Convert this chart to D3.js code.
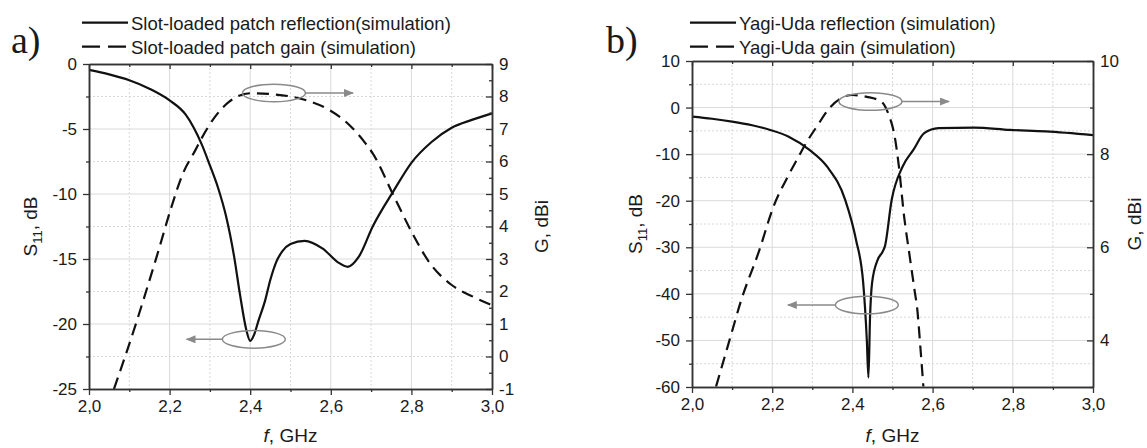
<!DOCTYPE html>
<html>
<head>
<meta charset="utf-8">
<script src="https://cdn.jsdelivr.net/npm/d3@7"></script>
<style>
body { margin: 0; background: #fff; }
svg text { font-family: "Liberation Sans", Arial, sans-serif; fill: #1a1a1a; }
</style>
</head>
<body>
<svg id="chart" width="1147" height="448"></svg>
<script>
// ---- panel a) slot-loaded patch ----
var patchFreqS = [2.0, 2.05, 2.1, 2.15, 2.2, 2.24, 2.26, 2.28, 2.3, 2.32, 2.34, 2.36, 2.375, 2.39, 2.4, 2.41, 2.42, 2.437, 2.45, 2.465, 2.48, 2.5, 2.535, 2.58, 2.62, 2.642, 2.67, 2.704, 2.757, 2.8, 2.85, 2.9, 2.95, 3.0];
var patchS11 = [-0.45, -0.8, -1.25, -1.9, -2.8, -3.9, -4.9, -6.2, -7.8, -9.5, -11.7, -14.8, -17.8, -20.4, -21.3, -20.8, -19.8, -18.2, -16.6, -15.2, -14.4, -13.85, -13.6, -14.2, -15.3, -15.6, -14.8, -12.5, -9.7, -7.6, -6.0, -4.9, -4.3, -3.8];
var patchFreqG = [2.062, 2.117, 2.135, 2.171, 2.202, 2.233, 2.264, 2.277, 2.313, 2.348, 2.402, 2.455, 2.535, 2.597, 2.642, 2.686, 2.704, 2.757, 2.802, 2.846, 2.9, 2.953, 3.0];
var patchGain = [-1.0, 1.03, 1.74, 3.2, 4.5, 5.63, 6.35, 6.66, 7.38, 7.84, 8.1, 8.07, 7.9, 7.58, 7.17, 6.56, 6.25, 4.92, 3.8, 2.87, 2.2, 1.84, 1.58];

// ---- panel b) Yagi-Uda ----
var yagiFreqS = [2.0, 2.05, 2.1, 2.15, 2.195, 2.24, 2.293, 2.337, 2.382, 2.409, 2.427, 2.436, 2.44, 2.444, 2.449, 2.463, 2.475, 2.481, 2.498, 2.525, 2.552, 2.579, 2.615, 2.704, 2.793, 2.882, 3.0];
var yagiS11 = [-1.95, -2.4, -3.0, -3.8, -4.8, -6.2, -9.1, -12.7, -19.8, -28.4, -37.7, -50, -58, -45, -37.7, -32.7, -31, -29.8, -19.8, -12.7, -9.1, -5.5, -4.4, -4.3, -4.8, -5.1, -5.9];
var yagiFreqG = [2.06, 2.09, 2.123, 2.168, 2.203, 2.239, 2.266, 2.284, 2.311, 2.346, 2.4, 2.436, 2.472, 2.489, 2.507, 2.516, 2.529, 2.543, 2.556, 2.561, 2.57, 2.577];
var yagiGain = [3.01, 3.9, 4.87, 5.94, 6.87, 7.52, 7.95, 8.23, 8.59, 9.02, 9.27, 9.23, 9.13, 8.88, 8.3, 7.73, 6.66, 5.8, 5.02, 4.73, 3.8, 3.01];

// ---- tick labels ----
var freqTicks = [2.0, 2.2, 2.4, 2.6, 2.8, 3.0];
var freqMinor = [2.1, 2.3, 2.5, 2.7, 2.9];
var patchS11Ticks = [-25, -20, -15, -10, -5, 0];
var patchS11Minor = [-22.5, -17.5, -12.5, -7.5, -2.5];
var patchGainTicks = [-1, 0, 1, 2, 3, 4, 5, 6, 7, 8, 9];
var patchGainMinor = [-0.5, 0.5, 1.5, 2.5, 3.5, 4.5, 5.5, 6.5, 7.5, 8.5];
var yagiS11Ticks = [-60, -50, -40, -30, -20, -10, 0, 10];
var yagiS11Minor = [-55, -45, -35, -25, -15, -5, 5];
var yagiGainTicks = [4, 6, 8, 10];
var yagiGainMinor = [3, 5, 7, 9];

var patchLegend = ["Slot-loaded patch reflection(simulation)", "Slot-loaded patch gain (simulation)"];
var yagiLegend = ["Yagi-Uda reflection (simulation)", "Yagi-Uda gain (simulation)"];

// annotation anchors: [freq, value, axis ("L" or "R"), arrow end freq]
var patchNotes = [[2.459, 8.11, "R", 2.655], [2.409, -21.18, "L", 2.242]];
var yagiNotes = [[2.445, 9.13, "R", 2.641], [2.436, -42.4, "L", 2.239]];

var svg = d3.select("#chart");
var comma = function(d) { return d3.format(".1f")(d).replace(".", ",").replace("\u2212", "-"); };
var plain = function(d) { return String(d); };

svg.append("defs").append("marker")
    .attr("id", "arr")
    .attr("viewBox", "0 0 10 8")
    .attr("refX", 9).attr("refY", 4)
    .attr("markerWidth", 10).attr("markerHeight", 8)
    .attr("markerUnits", "userSpaceOnUse")
    .attr("orient", "auto")
  .append("path")
    .attr("d", "M0,0 L10,4 L0,8 z")
    .attr("fill", "#8a8a8a");

function panel(p) {
  var x = d3.scaleLinear().domain([2, 3]).range([p.left, p.right]);
  var yL = d3.scaleLinear().domain(p.lDomain).range([p.bottom, p.top]);
  var yR = d3.scaleLinear().domain(p.rDomain).range([p.bottom, p.top]);
  var g = svg.append("g");

  // grid
  var grid = g.append("g");
  grid.selectAll(".vmaj").data(freqTicks.slice(1, -1)).enter().append("line")
      .attr("x1", x).attr("x2", x).attr("y1", p.top).attr("y2", p.bottom)
      .attr("stroke", "#dadada").attr("stroke-width", 1);
  grid.selectAll(".vmin").data(freqMinor).enter().append("line")
      .attr("x1", x).attr("x2", x).attr("y1", p.top).attr("y2", p.bottom)
      .attr("stroke", "#d8d8d8").attr("stroke-width", 1).attr("stroke-dasharray", "2,2");
  grid.selectAll(".hmaj").data(p.lTicks.slice(1, -1)).enter().append("line")
      .attr("y1", yL).attr("y2", yL).attr("x1", p.left).attr("x2", p.right)
      .attr("stroke", "#dadada").attr("stroke-width", 1);
  grid.selectAll(".hmin").data(p.lMinor).enter().append("line")
      .attr("y1", yL).attr("y2", yL).attr("x1", p.left).attr("x2", p.right)
      .attr("stroke", "#d8d8d8").attr("stroke-width", 1).attr("stroke-dasharray", "2,2");

  // curves
  var lineS = d3.line().x(function(d) { return x(d[0]); }).y(function(d) { return yL(d[1]); }).curve(d3.curveMonotoneX);
  var lineG = d3.line().x(function(d) { return x(d[0]); }).y(function(d) { return yR(d[1]); }).curve(d3.curveMonotoneX);
  g.append("path").datum(d3.zip(p.fG, p.vG)).attr("d", lineG)
      .attr("fill", "none").attr("stroke", "#111").attr("stroke-width", 2.2).attr("stroke-dasharray", "12,7");
  g.append("path").datum(d3.zip(p.fS, p.vS)).attr("d", lineS)
      .attr("fill", "none").attr("stroke", "#111").attr("stroke-width", 2.2).attr("stroke-linejoin", "round");

  // annotations
  p.notes.forEach(function(n) {
    var sc = n[2] == "L" ? yL : yR;
    var cx = x(n[0]), cy = sc(n[1]);
    g.append("ellipse").attr("cx", cx).attr("cy", cy).attr("rx", 31.5).attr("ry", 8.8)
        .attr("fill", "none").attr("stroke", "#8a8a8a").attr("stroke-width", 1.5);
    var sx = n[3] > n[0] ? cx + 31.5 : cx - 31.5;
    g.append("line").attr("x1", sx).attr("y1", cy).attr("x2", x(n[3])).attr("y2", cy)
        .attr("stroke", "#8a8a8a").attr("stroke-width", 1.5).attr("marker-end", "url(#arr)");
  });

  // axes
  function style(a) {
    a.selectAll(".domain").attr("stroke", "#333").attr("stroke-width", 1.5);
    a.selectAll(".tick line").attr("stroke", "#333").attr("stroke-width", 1.3);
    a.selectAll("text").attr("font-size", 17).attr("fill", "#1a1a1a");
  }
  g.append("g").attr("transform", "translate(0," + p.bottom + ")")
      .call(d3.axisBottom(x).tickValues(freqTicks).tickFormat(comma).tickSize(6).tickSizeOuter(0).tickPadding(5)).call(style);
  g.append("g").attr("transform", "translate(0," + p.bottom + ")")
      .call(d3.axisBottom(x).tickValues(freqMinor).tickFormat("").tickSize(3).tickSizeOuter(0)).call(style);
  g.append("g").attr("transform", "translate(0," + p.top + ")")
      .call(d3.axisTop(x).tickValues(freqTicks).tickFormat("").tickSize(-5).tickSizeOuter(0)).call(style);
  g.append("g").attr("transform", "translate(0," + p.top + ")")
      .call(d3.axisTop(x).tickValues(freqMinor).tickFormat("").tickSize(-3).tickSizeOuter(0)).call(style);
  g.append("g").attr("transform", "translate(" + p.left + ",0)")
      .call(d3.axisLeft(yL).tickValues(p.lTicks).tickFormat(plain).tickSize(6).tickSizeOuter(0).tickPadding(6)).call(style);
  g.append("g").attr("transform", "translate(" + p.left + ",0)")
      .call(d3.axisLeft(yL).tickValues(p.lMinor).tickFormat("").tickSize(3).tickSizeOuter(0)).call(style);
  g.append("g").attr("transform", "translate(" + p.right + ",0)")
      .call(d3.axisRight(yR).tickValues(p.rTicks).tickFormat(plain).tickSize(-6).tickSizeOuter(0).tickPadding(7)).call(style);
  g.append("g").attr("transform", "translate(" + p.right + ",0)")
      .call(d3.axisRight(yR).tickValues(p.rMinor).tickFormat("").tickSize(-3).tickSizeOuter(0)).call(style);

  // axis titles
  var cy = (p.top + p.bottom) / 2;
  var t1 = g.append("text").attr("transform", "translate(" + p.sTitleX + "," + cy + ") rotate(-90)")
      .attr("text-anchor", "middle").attr("dy", "0.35em").attr("font-size", 19);
  t1.append("tspan").text("S");
  t1.append("tspan").attr("font-size", 13).attr("dy", 5).text("11");
  t1.append("tspan").attr("dy", -5).text(", dB");
  g.append("text").attr("transform", "translate(" + p.gTitleX + "," + cy + ") rotate(-90)")
      .attr("text-anchor", "middle").attr("dy", "0.35em").attr("font-size", 19).text("G, dBi");
  var t3 = g.append("text").attr("x", (p.left + p.right) / 2).attr("y", 442)
      .attr("text-anchor", "middle").attr("font-size", 19);
  t3.append("tspan").attr("font-style", "italic").text("f");
  t3.append("tspan").text(", GHz");

  // legend
  p.legend.forEach(function(txt, i) {
    var ly = 22.7 + i * 24;
    g.append("line").attr("x1", p.legX).attr("x2", p.legX + 46).attr("y1", ly).attr("y2", ly)
        .attr("stroke", "#111").attr("stroke-width", 2.2).attr("stroke-dasharray", i ? "18,8" : null);
    g.append("text").attr("x", p.legX + 49).attr("y", ly + 7).attr("font-size", 18.5).text(txt);
  });

  g.append("text").attr("x", p.tagX).attr("y", 53)
      .style("font-family", "'Liberation Serif', 'Times New Roman', serif").attr("font-size", 38).text(p.tag);
}

panel({
  left: 89, right: 492, top: 64, bottom: 389,
  lDomain: [-25, 0], rDomain: [-1, 9],
  lTicks: patchS11Ticks, lMinor: patchS11Minor, rTicks: patchGainTicks, rMinor: patchGainMinor,
  fS: patchFreqS, vS: patchS11, fG: patchFreqG, vG: patchGain,
  notes: patchNotes, legend: patchLegend, legX: 82, tag: "a)", tagX: 11,
  sTitleX: 30, gTitleX: 541
});

panel({
  left: 692, right: 1093, top: 61, bottom: 387,
  lDomain: [-60, 10], rDomain: [3, 10],
  lTicks: yagiS11Ticks, lMinor: yagiS11Minor, rTicks: yagiGainTicks, rMinor: yagiGainMinor,
  fS: yagiFreqS, vS: yagiS11, fG: yagiFreqG, vG: yagiGain,
  notes: yagiNotes, legend: yagiLegend, legX: 690, tag: "b)", tagX: 606,
  sTitleX: 635, gTitleX: 1134
});
</script>
</body>
</html>
